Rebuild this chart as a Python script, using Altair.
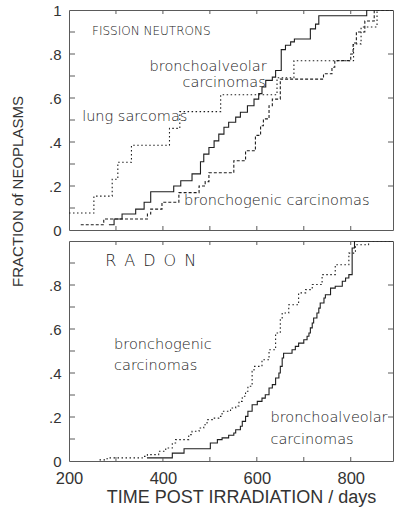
import altair as alt
import pandas as pd

# ---------------- Fission neutrons (upper panel) ----------------
fn_sarcoma_days = [200, 253, 292, 304, 333, 414, 436, 523, 643, 679, 806, 822, 856]
fn_sarcoma_frac = [0.077, 0.154, 0.231, 0.308, 0.385, 0.462, 0.538, 0.615, 0.692,
                   0.769, 0.846, 0.923, 1.0]

fn_alveolar_days = [285, 296, 313, 342, 360, 374, 423, 438, 462, 480, 487, 498, 509,
                    519, 530, 540, 555, 565, 580, 594, 604, 611, 619, 633, 640, 652,
                    661, 672, 680, 714, 725, 732, 834]
fn_alveolar_frac = [0.024, 0.05, 0.073, 0.095, 0.126, 0.174, 0.2, 0.224, 0.255, 0.31,
                    0.345, 0.375, 0.405, 0.436, 0.467, 0.49, 0.513, 0.535, 0.565, 0.595,
                    0.62, 0.65, 0.68, 0.695, 0.725, 0.82, 0.84, 0.855, 0.868, 0.914,
                    0.936, 0.974, 1.0]

fn_bronchogenic_days = [225, 274, 367, 374, 398, 434, 477, 490, 498, 551, 576, 597, 608,
                        614, 626, 633, 650, 742, 760, 766, 800, 805, 812, 830, 850]
fn_bronchogenic_frac = [0.024, 0.05, 0.073, 0.095, 0.126, 0.17, 0.2, 0.22, 0.26, 0.315,
                        0.36, 0.43, 0.474, 0.505, 0.565, 0.595, 0.686, 0.71, 0.74, 0.77,
                        0.8, 0.85, 0.9, 0.95, 1.0]

# ---------------- Radon (lower panel) ----------------
rn_alveolar_days = [366, 420, 445, 501, 516, 526, 540, 551, 555, 565, 569, 576, 581, 590,
                    601, 611, 618, 626, 633, 640, 647, 650, 654, 657, 675, 682, 689, 700,
                    707, 711, 714, 718, 721, 728, 732, 735, 743, 746, 757, 767, 782, 789,
                    796, 803, 808]
rn_alveolar_frac = [0.014, 0.036, 0.056, 0.082, 0.097, 0.105, 0.117, 0.127, 0.142, 0.158,
                    0.18, 0.203, 0.226, 0.256, 0.271, 0.286, 0.301, 0.332, 0.347, 0.377,
                    0.4, 0.43, 0.468, 0.49, 0.506, 0.521, 0.536, 0.551, 0.567, 0.582,
                    0.605, 0.627, 0.65, 0.673, 0.695, 0.718, 0.741, 0.756, 0.786, 0.794,
                    0.817, 0.832, 0.847, 0.968, 1.0]

rn_bronchogenic_days = [265, 278, 285, 356, 367, 391, 406, 420, 427, 455, 462, 477, 487,
                        494, 505, 519, 526, 544, 555, 562, 569, 576, 581, 590, 594, 611,
                        626, 640, 650, 654, 668, 689, 704, 718, 739, 767, 796, 810, 838]
rn_bronchogenic_frac = [0.005, 0.01, 0.014, 0.021, 0.029, 0.044, 0.059, 0.082, 0.097,
                        0.12, 0.135, 0.15, 0.165, 0.188, 0.195, 0.203, 0.226, 0.241, 0.25,
                        0.271, 0.294, 0.317, 0.34, 0.408, 0.43, 0.46, 0.506, 0.582, 0.65,
                        0.673, 0.71, 0.764, 0.779, 0.802, 0.847, 0.892, 0.945, 0.983, 1.0]

# ---------------- axes ----------------
x_label_days = [200, 400, 600, 800]
x_tick_days = [300, 400, 500, 600, 700, 800]
y_tick_frac = [0.1, 0.2, 0.3, 0.4, 0.5, 0.6, 0.7, 0.8, 0.9]
y_right_tick_frac = [0.2, 0.4, 0.6, 0.8]
top_y_labels = [0, 0.2, 0.4, 0.6, 0.8, 1]
bottom_y_labels = [0, 0.2, 0.4, 0.6, 0.8]

X_MIN, X_MAX = 200, 890
PANEL_W, PANEL_H = 324, 220
AXIS_FONT = "Liberation Sans"
NOTE_FONT = "DejaVu Sans"
INK = "#1e1e1e"
FRAME = "#5a5a5a"
TEXT = "#333333"

LABEL_EXPR = ("datum.value == 0 ? '0' : datum.value == 1 ? '1' : "
              "replace(format(datum.value, '.1f'), '0.', '.')")

SOLID = None
DOTTED = [1.5, 2.5]
DASHED = [3, 2]


def step_frame(days, fracs):
    # carry the last level on to the right-hand edge of the plot
    return pd.DataFrame({"day": days + [X_MAX], "frac": fracs + [fracs[-1]]})


def panel(curves, notes, y_labels, lower):
    x_scale = alt.Scale(domain=[X_MIN, X_MAX], nice=False, zero=False)
    y_scale = alt.Scale(domain=[0, 1], nice=False)
    y_axis_style = dict(values=y_labels, labelExpr=LABEL_EXPR, ticks=False, domain=False,
                        grid=False, labelFlush=False, labelOverlap=False,
                        labelFont=AXIS_FONT, labelFontSize=15, labelColor=TEXT,
                        labelPadding=8)
    if lower:
        x_axis = alt.Axis(values=x_label_days, ticks=False, domain=False, grid=False,
                          labelFlush=False, labelOverlap=False, labelFont=AXIS_FONT,
                          labelFontSize=16.5, labelColor=TEXT, labelPadding=9,
                          titleFont=AXIS_FONT, titleFontSize=18, titleFontWeight="normal",
                          titleColor=TEXT, titlePadding=2, titleX=172, titleAlign="center")
        x_enc = alt.X("day:Q", scale=x_scale, axis=x_axis,
                      title="TIME POST IRRADIATION / days")
        y_enc = alt.Y("frac:Q", scale=y_scale, axis=alt.Axis(**y_axis_style), title=None)
    else:
        x_enc = alt.X("day:Q", scale=x_scale, axis=None)
        y_enc = alt.Y("frac:Q", scale=y_scale,
                      axis=alt.Axis(**y_axis_style, titleFont=AXIS_FONT, titleFontSize=15,
                                    titleFontWeight="normal", titleColor=TEXT,
                                    titleAngle=270, titleX=-52, titleY=181,
                                    titleAlign="center", titleBaseline="middle"),
                      title="FRACTION of NEOPLASMS")

    layers = []
    for days, fracs, dash in curves:
        style = dict(interpolate="step-after", color=INK, strokeWidth=1.1, clip=True)
        if dash is not None:
            style["strokeDash"] = dash
        layers.append(alt.Chart(step_frame(days, fracs)).mark_line(**style)
                      .encode(x=x_enc, y=y_enc))

    # inward tick marks on all four sides of the frame
    xt = pd.DataFrame({"day": x_tick_days})
    yt = pd.DataFrame({"frac": y_tick_frac})
    yr = pd.DataFrame({"frac": y_right_tick_frac})
    layers += [
        alt.Chart(xt).mark_rule(color=FRAME, strokeWidth=1).encode(
            x=x_enc, y=alt.value(PANEL_H), y2=alt.value(PANEL_H - 4)),
        alt.Chart(xt).mark_rule(color=FRAME, strokeWidth=1).encode(
            x=x_enc, y=alt.value(0), y2=alt.value(4)),
        alt.Chart(yt).mark_rule(color=FRAME, strokeWidth=1).encode(
            y=y_enc, x=alt.value(0), x2=alt.value(6)),
        alt.Chart(yr).mark_rule(color=FRAME, strokeWidth=1).encode(
            y=y_enc, x=alt.value(PANEL_W), x2=alt.value(PANEL_W - 5)),
    ]

    for label, day, frac, align, size in notes:
        df = pd.DataFrame({"day": [day], "frac": [frac], "label": [label]})
        layers.append(alt.Chart(df).mark_text(align=align, baseline="middle", font=NOTE_FONT,
                                              fontSize=size, fontWeight=200, color="#222222",
                                              clip=True)
                      .encode(x=x_enc, y=y_enc, text="label:N"))

    return alt.layer(*layers).properties(width=PANEL_W, height=PANEL_H)


upper = panel(
    curves=[(fn_sarcoma_days, fn_sarcoma_frac, DOTTED),
            (fn_bronchogenic_days, fn_bronchogenic_frac, DASHED),
            (fn_alveolar_days, fn_alveolar_frac, SOLID)],
    notes=[("FISSION NEUTRONS", 249, 0.906, "left", 12),
           ("bronchoalveolar", 621, 0.74, "right", 14.5),
           ("carcinomas", 619, 0.668, "right", 14.5),
           ("lung sarcomas", 228, 0.514, "left", 14.5),
           ("bronchogenic carcinomas", 445, 0.133, "left", 14.5)],
    y_labels=top_y_labels, lower=False)

lower = panel(
    curves=[(rn_bronchogenic_days, rn_bronchogenic_frac, DOTTED),
            (rn_alveolar_days, rn_alveolar_frac, SOLID)],
    notes=[("R\u2002A\u2002D\u2002O\u2002N", 277, 0.909, "left", 16),
           ("bronchogenic", 296, 0.527, "left", 14.5),
           ("carcinomas", 296, 0.432, "left", 14.5),
           ("bronchoalveolar", 629, 0.195, "left", 14.5),
           ("carcinomas", 629, 0.097, "left", 14.5)],
    y_labels=bottom_y_labels, lower=True)

chart = alt.vconcat(upper, lower, spacing=11, bounds="flush").properties(
    padding={"left": 9, "top": 2, "right": 0, "bottom": 0},
    background="white",
).configure_view(stroke=FRAME, strokeWidth=1)

chart.save("out.html", embed_options={"renderer": "svg", "actions": False})
